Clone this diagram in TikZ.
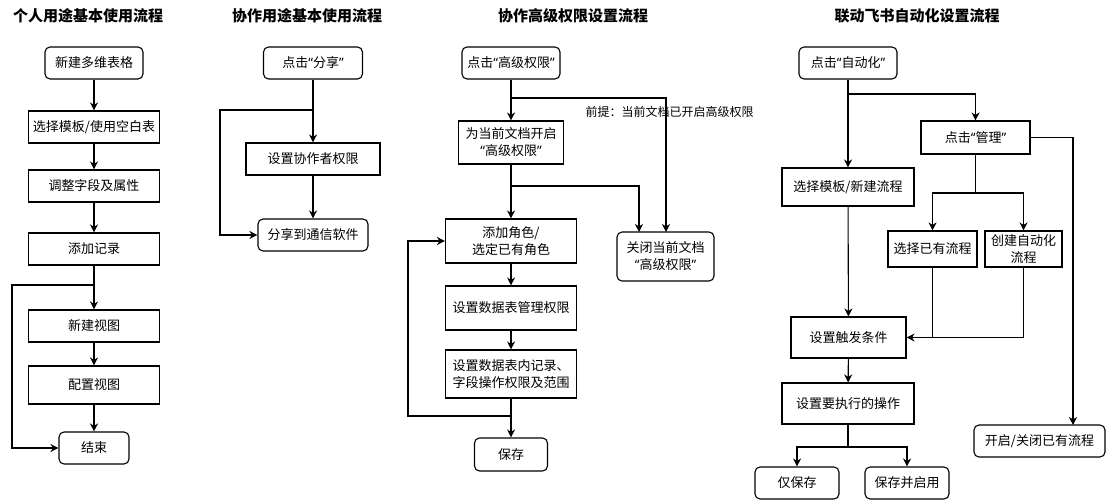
\documentclass[tikz,border=0pt]{standalone}
\usepackage{fontspec}
\setmainfont{Noto Sans CJK SC}
\newfontfamily\qfont{Noto Sans}
\newcommand\oq{{\qfont “}}
\newcommand\cq{{\qfont ”}}
\usetikzlibrary{arrows.meta}

\begin{document}
\begin{tikzpicture}[x=1pt,y=1pt,line width=1.1pt]
\tikzstyle{every node}+=[inner sep=0pt,font=\fontsize{13}{17}\selectfont]
\tikzstyle{box}=[draw,align=center,minimum height=32pt]
\tikzstyle{rbox}=[box,rounded corners=5pt]
\tikzstyle{title}=[font=\fontsize{15}{18}\selectfont\bfseries]
\tikzstyle{arr}=[-{Stealth[length=8pt,width=8pt,inset=2.5pt]}]
\useasboundingbox (0,0) rectangle (1106,-500);
% personal use
\node [title] (t1) at (88,-16) {个人用途基本使用流程};
\node [rbox,minimum width=98pt] (a0) at (94,-63) {新建多维表格};
\node [box,minimum width=131pt] (a1) at (94,-127) {选择模板/使用空白表};
\node [box,minimum width=131pt] (a2) at (94,-186) {调整字段及属性};
\node [box,minimum width=131pt] (a3) at (94,-249) {添加记录};
\node [box,minimum width=131pt] (a4) at (94,-326) {新建视图};
\node [box,minimum width=131pt,minimum height=38pt] (a5) at (94,-385) {配置视图};
\node [rbox,minimum width=70pt] (a6) at (94,-448) {结束};
\coordinate (a3j) at (94,-285);
\coordinate (a6k) at (12,-448);
\draw [arr] (a0) -- (a1);
\draw [arr] (a1) -- (a2);
\draw [arr] (a2) -- (a3);
\draw [arr] (a3) -- (a4);
\draw [arr] (a4) -- (a5);
\draw [arr] (a5) -- (a6);
\draw [arr] (a3j) -| (a6k) -- (a6.west);
% sharing
\node [title] (t2) at (307,-16) {协作用途基本使用流程};
\node [rbox,minimum width=99pt] (b0) at (313,-63) {点击\oq 分享\cq};
\node [box,minimum width=134pt] (b1) at (313,-159) {设置协作者权限};
\node [rbox,minimum width=110pt] (b2) at (313,-235) {分享到通信软件};
\coordinate (b0j) at (313,-110);
\coordinate (b2k) at (220,-235);
\draw [arr] (b0) -- (b1);
\draw [arr] (b1) -- (b2);
\draw [arr] (b0j) -| (b2k) -- (b2.west);
% advanced permissions
\node [title] (t3) at (573,-16) {协作高级权限设置流程};
\node [rbox,minimum width=98pt] (c0) at (511,-63) {点击\oq 高级权限\cq};
\node [box,minimum width=105pt,minimum height=43pt] (c1) at (511,-142.5) {为当前文档开启\\\oq 高级权限\cq};
\node [box,minimum width=131pt,minimum height=44pt] (c2) at (511,-241) {添加角色/\\选定已有角色};
\node [box,minimum width=131pt,minimum height=44pt] (c3) at (511,-308) {设置数据表管理权限};
\node [box,minimum width=131pt,minimum height=48pt] (c4) at (511,-374) {设置数据表内记录、\\字段操作权限及范围};
\node [rbox,minimum width=73pt,minimum height=33pt] (c5) at (511,-454.5) {保存};
\node [rbox,minimum width=97pt,minimum height=49pt] (c6) at (665.5,-256.5) {关闭当前文档\\\oq 高级权限\cq};
\node [anchor=west,font=\fontsize{12}{14}\selectfont] (note) at (585,-112) {前提：当前文档已开启高级权限};
\coordinate (c0j) at (511,-98);
\coordinate (c6a) at (666,-232);
\coordinate (c1j) at (511,-186);
\coordinate (c6b) at (639,-232);
\coordinate (c4j) at (511,-416);
\coordinate (c2k) at (408,-241);
\draw [arr] (c0) -- (c1);
\draw [arr] (c1) -- (c2);
\draw [arr] (c2) -- (c3);
\draw [arr] (c3) -- (c4);
\draw [arr] (c4) -- (c5);
\draw [arr] (c0j) -| (c6a);
\draw [arr] (c1j) -| (c6b);
\draw [arr] (c4j) -| (c2k) -- (c2.west);
% automation
\node [title] (t4) at (917,-16) {联动飞书自动化设置流程};
\node [rbox,minimum width=98pt] (d0) at (848,-63) {点击\oq 自动化\cq};
\node [box,minimum width=109pt,minimum height=33pt] (d1) at (975.5,-137.5) {点击\oq 管理\cq};
\node [box,minimum width=132pt,minimum height=38pt] (d2) at (848,-187) {选择模板/新建流程};
\node [box,minimum width=89pt,minimum height=36pt] (d3) at (932.5,-249) {选择已有流程};
\node [box,minimum width=77pt,minimum height=36pt] (d4) at (1023.5,-249) {创建自动化\\流程};
\node [box,minimum width=115pt,minimum height=41pt] (d5) at (848.5,-337.5) {设置触发条件};
\node [box,minimum width=132pt,minimum height=41pt] (d6) at (848,-403.5) {设置要执行的操作};
\node [rbox,minimum width=84pt] (d7) at (797,-483) {仅保存};
\node [rbox,minimum width=84pt] (d8) at (907,-483) {保存并启用};
\node [rbox,minimum width=131pt] (d9) at (1039.5,-441) {开启/关闭已有流程};
\coordinate (d0j) at (848,-94);
\coordinate (d1j) at (975.5,-193);
\coordinate (d6j) at (848,-447);
\coordinate (d9k) at (1073,-425);
\draw [arr] (d0) -- (d2);
\draw [arr] (d0j) -| (d1.north);
\draw [arr] (d1.east) -| (d9k);
\draw (d1) -- (d1j);
\draw [arr] (d1j) -| (d3.north);
\draw [arr] (d1j) -| (d4.north);
\draw [arr] (d3.south) |- (d5.east);
\draw (d4.south) |- (d3.south |- d5.east);
\draw [arr] (d2) -- (d5);
\draw [arr] (d5) -- (d6);
\draw (d6) -- (d6j);
\draw [arr] (d6j) -| (d7.north);
\draw [arr] (d6j) -| (d8.north);
\end{tikzpicture}
\end{document}
